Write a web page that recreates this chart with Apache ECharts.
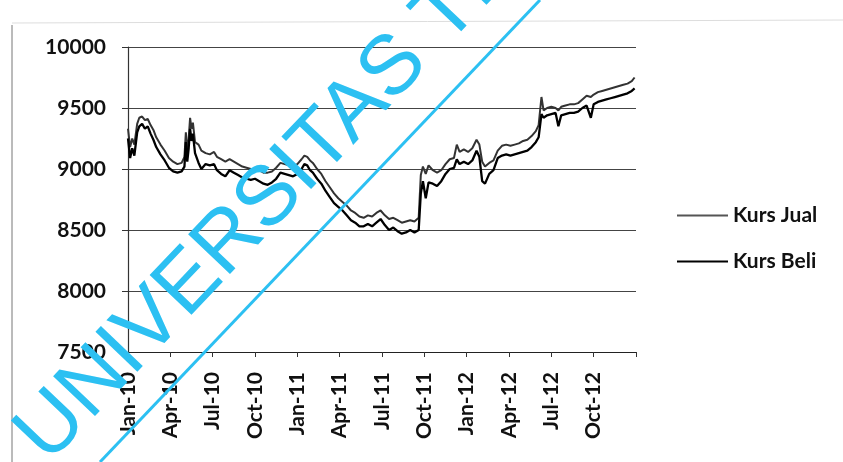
<!DOCTYPE html>
<html>
<head>
<meta charset="utf-8">
<script src="https://cdn.jsdelivr.net/npm/echarts@6/dist/echarts.min.js"></script>
<style>html,body{margin:0;padding:0;background:#fff;}#c{width:843px;height:462px;}</style>
</head>
<body>
<div id="c"></div>
<script>
// months since Jan 2010
const months = [
  0, 0.15, 0.3, 0.45, 0.65, 0.8, 1.0, 1.2, 1.4, 1.6,
  1.8, 2.0, 2.3, 2.6, 2.9, 3.2, 3.5, 3.8, 4.0, 4.1,
  4.2, 4.3, 4.4, 4.5, 4.6, 4.75, 5.0, 5.2, 5.5, 5.8,
  6.1, 6.3, 6.6, 6.9, 7.2, 7.5, 7.8, 8.1, 8.4, 8.7,
  9.0, 9.3, 9.6, 9.9, 10.2, 10.5, 10.8, 11.1, 11.4, 11.7,
  12.0, 12.3, 12.5, 12.7, 12.9, 13.1, 13.4, 13.7, 14.0, 14.3,
  14.6, 14.9, 15.2, 15.5, 15.8, 16.1, 16.4, 16.7, 17.0, 17.3,
  17.6, 17.9, 18.2, 18.5, 18.8, 19.1, 19.4, 19.7, 20.0, 20.3,
  20.6, 20.75, 20.9, 21.1, 21.3, 21.6, 21.9, 22.2, 22.5, 22.8,
  23.1, 23.3, 23.5, 23.8, 24.1, 24.4, 24.7, 24.9, 25.1, 25.3,
  25.6, 25.9, 26.2, 26.5, 26.8, 27.1, 27.4, 27.7, 28.0, 28.3,
  28.6, 28.9, 29.1, 29.3, 29.45, 29.7, 30.0, 30.3, 30.5, 30.7,
  31.0, 31.3, 31.6, 31.9, 32.2, 32.5, 32.8, 33.0, 33.3, 33.6,
  33.9, 34.2, 34.5, 34.8, 35.1, 35.4, 35.7, 35.9
];
const kursJual = [
  9330, 9180, 9250, 9200, 9370, 9420, 9430, 9400, 9410, 9360,
  9320, 9260, 9200, 9150, 9090, 9060, 9040, 9050, 9100, 9300,
  9150, 9250, 9420, 9330, 9380, 9220, 9200, 9150, 9130, 9120,
  9140, 9100, 9080, 9060, 9080, 9060, 9040, 9020, 9010, 9000,
  9000, 8990, 8970, 8970, 8980, 9010, 9050, 9040, 9030, 9020,
  9040, 9080, 9110, 9100, 9070, 9050, 9000, 8960, 8900, 8850,
  8800, 8760, 8730, 8700, 8660, 8640, 8610, 8600, 8620, 8610,
  8640, 8660, 8620, 8590, 8600, 8580, 8560, 8570, 8580, 8570,
  8600, 8950, 9020, 8960, 9030, 8990, 8970, 8990, 9040, 9080,
  9090, 9200, 9140, 9160, 9140, 9170, 9240, 9200, 9060, 9020,
  9050, 9070, 9150, 9190, 9200, 9190, 9200, 9210, 9230, 9240,
  9270, 9310, 9360, 9590, 9480, 9500, 9510, 9500, 9480, 9510,
  9520, 9530, 9530, 9540, 9570, 9600, 9590, 9610, 9630, 9640,
  9650, 9660, 9670, 9680, 9690, 9700, 9720, 9750
];
const kursBeli = [
  9250, 9090, 9170, 9110, 9300, 9350, 9370, 9330, 9350, 9290,
  9240, 9180, 9120, 9070, 9010, 8980, 8970, 8980, 9020, 9220,
  9060, 9170, 9330, 9230, 9290, 9130, 9050, 9000, 9040, 9030,
  9040, 8990, 8960, 8940, 8990, 8970, 8950, 8930, 8920, 8910,
  8920, 8900, 8880, 8870, 8890, 8920, 8970, 8960, 8950, 8940,
  8960, 9000, 9040, 9030, 8990, 8970, 8920, 8880, 8820, 8770,
  8720, 8690, 8660, 8620, 8580, 8560, 8530, 8530, 8550, 8530,
  8560, 8590, 8540, 8500, 8520, 8490, 8470, 8480, 8500, 8480,
  8500, 8800, 8900, 8760, 8890, 8880, 8860, 8900, 8960, 9000,
  9010, 9080, 9040, 9060, 9040, 9070, 9150, 9100, 8900, 8880,
  8960, 8990, 9090, 9110, 9120, 9110, 9120, 9130, 9140, 9150,
  9180, 9220, 9260, 9450, 9420, 9440, 9450, 9460, 9350, 9440,
  9450, 9460, 9460, 9470, 9500, 9520, 9420, 9530, 9550, 9560,
  9570, 9580, 9590, 9600, 9610, 9620, 9640, 9660
];
const tickLabels = ['Jan-10','Apr-10','Jul-10','Oct-10','Jan-11','Apr-11','Jul-11','Oct-11','Jan-12','Apr-12','Jul-12','Oct-12'];
const seriesNames = ['Kurs Jual', 'Kurs Beli'];

const chart = echarts.init(document.getElementById('c'), null, {renderer: 'canvas'});
const FONT = 'Lato';
chart.setOption({
  backgroundColor: '#ffffff',
  animation: false,
  grid: {left: 128, right: 207, top: 47, bottom: 110},
  legend: {
    orient: 'vertical', left: 677, top: 203, padding: 0,
    itemWidth: 51, itemHeight: 2, itemGap: 21, icon: 'rect',
    data: seriesNames,
    textStyle: {fontFamily: FONT, fontWeight: 'bold', fontSize: 21, color: '#111', lineHeight: 25}
  },
  xAxis: {
    type: 'value', min: 0, max: 36, interval: 3,
    axisLine: {show: true, lineStyle: {color: '#222', width: 1.2}},
    axisTick: {show: true, length: 5, lineStyle: {color: '#333'}},
    splitLine: {show: false},
    axisLabel: {
      rotate: 90, margin: 20, fontFamily: FONT, fontWeight: 'bold', fontSize: 21, color: '#111',
      formatter: v => (v % 3 === 0 && tickLabels[v / 3]) ? tickLabels[v / 3] : ''
    }
  },
  yAxis: {
    type: 'value', min: 7500, max: 10000, interval: 500,
    axisLine: {show: true, lineStyle: {color: '#333', width: 1.2}},
    axisTick: {show: true, length: 6, lineStyle: {color: '#333'}},
    splitLine: {show: true, lineStyle: {color: '#444', width: 1}},
    axisLabel: {margin: 22, fontFamily: FONT, fontWeight: 'bold', fontSize: 21, color: '#111',
      formatter: v => String(v)}
  },
  series: [
    {
      name: seriesNames[0], type: 'line', symbol: 'none',
      data: months.map((m, i) => [m, kursJual[i]]),
      lineStyle: {color: '#333', width: 2}, itemStyle: {color: '#555'}
    },
    {
      name: seriesNames[1], type: 'line', symbol: 'none',
      data: months.map((m, i) => [m, kursBeli[i]]),
      lineStyle: {color: '#000', width: 2.3}, itemStyle: {color: '#000'}
    }
  ],
  graphic: [
    {type: 'line', z: 1, shape: {x1: 12, y1: 25, x2: 12, y2: 462}, style: {stroke: '#777', lineWidth: 1}},
    {type: 'line', z: 1, shape: {x1: 12, y1: 23, x2: 843, y2: 20}, style: {stroke: '#ddd', lineWidth: 1}},
    {type: 'line', z: 100, shape: {x1: 100, y1: 462, x2: 540, y2: 0}, style: {stroke: '#2cc0f2', lineWidth: 3}},
    {
      type: 'text', z: 100, x: 62, y: 478, rotation: 0.81,
      style: {text: 'UNIVERSITAS TE', x: 0, y: 0, fill: '#2cc0f2', font: '84px "Liberation Sans", Arial, sans-serif', textVerticalAlign: 'bottom'}
    }
  ]
});
</script>
</body>
</html>
